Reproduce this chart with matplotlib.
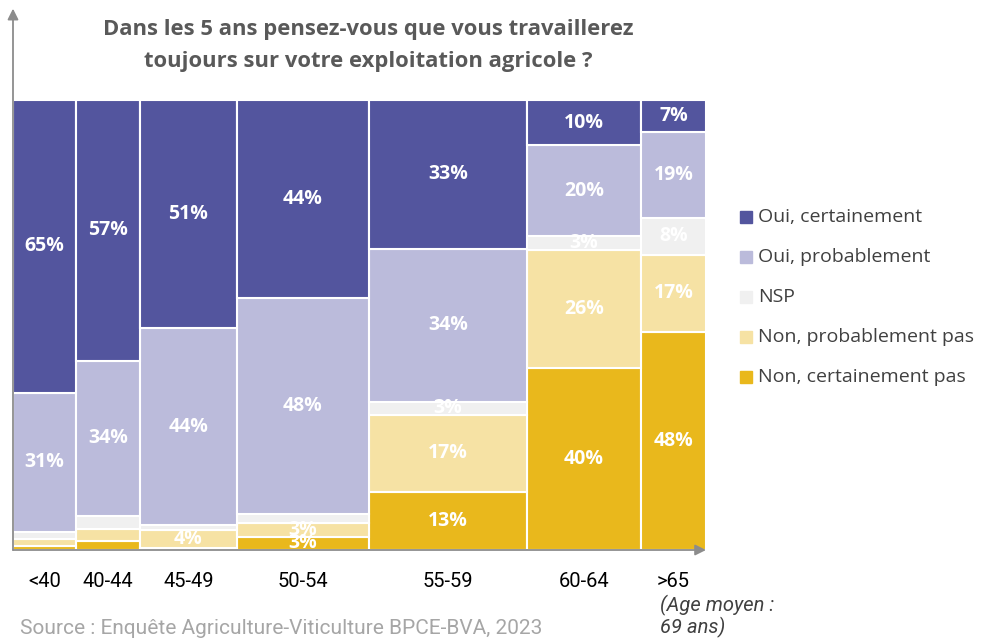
import matplotlib.pyplot as plt
import numpy as np

# age groups and column widths (share of respondents, read from column widths)
ages = ["<40", "40-44", "45-49", "50-54", "55-59", "60-64", ">65"]
col_widths = [63, 64, 97, 132, 158, 114, 65]

series = ["Oui, certainement", "Oui, probablement", "NSP",
          "Non, probablement pas", "Non, certainement pas"]
colors = ["#53559E", "#BBBBDB", "#F0F0F0", "#F6E2A4", "#E9B81C"]

# percentages per age group (top to bottom in the chart)
oui_cert = [65, 57, 51, 44, 33, 10, 7]
oui_prob = [31, 34, 44, 48, 34, 20, 19]
nsp = [1.5, 2.9, 1, 2, 3, 3, 8]
non_prob = [1.5, 2.5, 4, 3, 17, 26, 17]
non_cert = [1, 2, 0.5, 3, 13, 40, 48]

plt.rcParams['font.family'] = ['Open Sans', 'DejaVu Sans']

fig = plt.figure(figsize=(9.83, 6.39), dpi=100)
ax = fig.add_axes([13/983, 89/639, 693/983, 450/639])

data = np.array([oui_cert, oui_prob, nsp, non_prob, non_cert], dtype=float)
data_n = data / data.sum(axis=0) * 100
widths = np.array(col_widths, dtype=float)
lefts = np.concatenate([[0], np.cumsum(widths)[:-1]])
centers = lefts + widths / 2

# stack from bottom: non cert, non prob, nsp, oui prob, oui cert
bottom = np.zeros(len(ages))
for i in range(len(series) - 1, -1, -1):
    ax.bar(lefts, data_n[i], width=widths, bottom=bottom, align='edge',
           color=colors[i], edgecolor='white', linewidth=1.5, label=series[i])
    for j in range(len(ages)):
        if data[i, j] >= 3:
            ax.text(centers[j], bottom[j] + data_n[i, j] / 2, "%d%%" % round(data[i, j]),
                    ha='center', va='center', color='white', fontsize=14,
                    fontweight='bold')
    bottom += data_n[i]

ax.set_xlim(0, widths.sum())
ax.set_ylim(0, 100)
for s in ax.spines.values():
    s.set_visible(False)
ax.set_yticks([])
ax.set_xticks(centers)
ax.set_xticklabels(ages, fontsize=14.5, color='black', family='Roboto')
ax.tick_params(axis='x', length=0, pad=16)

# axis arrows
ax.annotate("", xy=(0, 1.203), xytext=(0, 0), xycoords='axes fraction',
            arrowprops=dict(arrowstyle='-|>', color='#8C8C8C', lw=1.3,
                            mutation_scale=16, shrinkA=0, shrinkB=0))
ax.annotate("", xy=(1.0, 0), xytext=(0, 0), xycoords='axes fraction',
            arrowprops=dict(arrowstyle='-|>', color='#8C8C8C', lw=1.3,
                            mutation_scale=16, shrinkA=0, shrinkB=0))

# title
fig.text(368/983, 1 - 29/639, "Dans les 5 ans pensez-vous que vous travaillerez",
         ha='center', va='center', fontsize=15.8, fontweight='bold', color='#595959')
fig.text(368/983, 1 - 62/639, "toujours sur votre exploitation agricole ?",
         ha='center', va='center', fontsize=15.8, fontweight='bold', color='#595959')

# legend
for k, name in enumerate(series):
    y = 1 - (217 + 40 * k) / 639
    fig.patches.append(plt.Rectangle((740/983, y - 6/639), 12/983, 12/639,
                                     transform=fig.transFigure, color=colors[k]))
    fig.text(758/983, y, name, ha='left', va='center', fontsize=14, color='#404040')

# notes
fig.text(660/983, 1 - 605/639, "(Age moyen :", ha='left', va='center',
         fontsize=14.5, style='italic', color='#404040', family='Roboto')
fig.text(660/983, 1 - 627/639, "69 ans)", ha='left', va='center',
         fontsize=14.5, style='italic', color='#404040', family='Roboto')
fig.text(20/983, 1 - 628/639, "Source : Enquête Agriculture-Viticulture BPCE-BVA, 2023",
         ha='left', va='center', fontsize=15, color='#A6A6A6', family='Roboto')

fig.savefig("out.png", dpi=100)
